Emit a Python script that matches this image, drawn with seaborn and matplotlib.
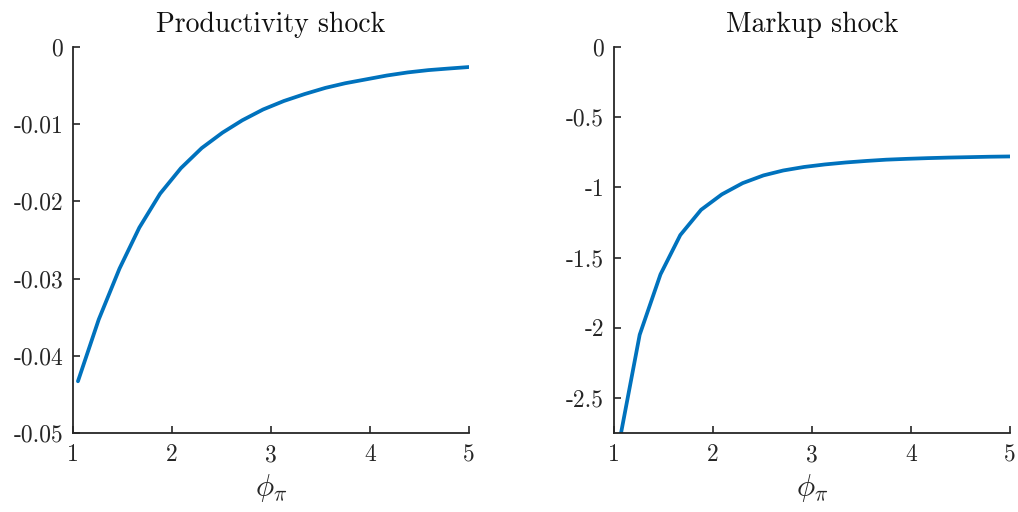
import matplotlib
matplotlib.use("Agg")
import matplotlib.pyplot as plt
from matplotlib.ticker import FuncFormatter
import seaborn as sns
import pandas as pd

# Taylor-rule inflation coefficient grid
phi_pi = [1.05, 1.26, 1.47, 1.67, 1.88, 2.09, 2.30, 2.51, 2.71, 2.92,
          3.13, 3.34, 3.55, 3.75, 3.96, 4.17, 4.38, 4.59, 4.79, 5.00]

# Response to a productivity shock
productivity = [-0.0433, -0.0353, -0.0287, -0.0234, -0.0190, -0.0157, -0.0131,
                -0.0111, -0.0095, -0.0081, -0.0070, -0.0061, -0.0053, -0.0047,
                -0.0042, -0.0037, -0.0033, -0.0030, -0.0028, -0.0026]

# Response to a markup shock
markup = [-2.83, -2.05, -1.62, -1.34, -1.16, -1.05, -0.97, -0.915, -0.88, -0.855,
          -0.837, -0.823, -0.812, -0.803, -0.797, -0.792, -0.788, -0.785, -0.782, -0.780]

titles = ["Productivity shock", "Markup shock"]
ylims = [(-0.05, 0), (-2.75, 0)]
yticks = [[-0.05, -0.04, -0.03, -0.02, -0.01, 0],
          [-2.5, -2, -1.5, -1, -0.5, 0]]
xticks = [1, 2, 3, 4, 5]

sns.set_style("ticks")
plt.rcParams.update({
    "font.family": "cmr10",
    "mathtext.fontset": "cm",
    "axes.unicode_minus": False,
    "axes.formatter.use_mathtext": True,
    "xtick.direction": "in",
    "ytick.direction": "in",
    "xtick.major.size": 5,
    "ytick.major.size": 5,
    "axes.edgecolor": "#262626",
    "axes.linewidth": 1.3,
    "xtick.color": "#262626",
    "ytick.color": "#262626",
    "text.color": "#111111",
})

fig = plt.figure(figsize=(10.18, 5.12), dpi=100)
ax1 = fig.add_axes([0.0717, 0.1543, 0.389, 0.754])
ax2 = fig.add_axes([0.6031, 0.1543, 0.389, 0.754])

fmt = FuncFormatter(lambda v, p: ("%g" % v).replace("\u2212", "-"))

for ax, vals, title, yl, yt in zip([ax1, ax2], [productivity, markup], titles, ylims, yticks):
    df = pd.DataFrame({"phi": phi_pi, "resp": vals})
    sns.lineplot(data=df, x="phi", y="resp", ax=ax, color="#0072BD", linewidth=2.7)
    ax.set_xlim(1, 5)
    ax.set_ylim(*yl)
    ax.set_xticks(xticks)
    ax.set_yticks(yt)
    ax.xaxis.set_major_formatter(fmt)
    ax.yaxis.set_major_formatter(fmt)
    ax.tick_params(labelsize=17, width=1.2)
    ax.tick_params(axis="y", pad=7)
    ax.tick_params(axis="x", pad=8)
    ax.set_title(title, fontsize=20, pad=11)
    ax.set_xlabel(r"$\phi_{\pi}$", fontsize=22, labelpad=4)
    ax.set_ylabel("")
    sns.despine(ax=ax)

fig.savefig("out.png", dpi=100)
